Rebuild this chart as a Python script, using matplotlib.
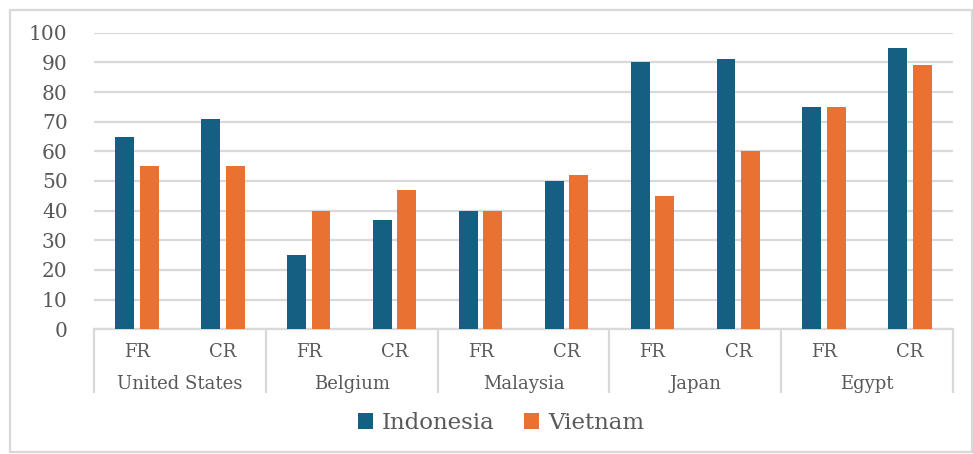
import matplotlib
matplotlib.use("Agg")
import matplotlib.pyplot as plt
import matplotlib.transforms as mtransforms
from matplotlib.patches import Rectangle
import numpy as np

countries = ["United States", "Belgium", "Malaysia", "Japan", "Egypt"]
measures = ["FR", "CR"]
indonesia = [65, 71, 25, 37, 40, 50, 90, 91, 75, 95]
vietnam = [55, 55, 40, 47, 40, 52, 45, 60, 75, 89]

BLUE = "#156082"
ORANGE = "#E97132"
GRID = "#D9D9D9"
TXT = "#595959"

plt.rcParams["font.family"] = ["DejaVu Serif"]

fig = plt.figure(figsize=(9.73, 4.54), dpi=100)
ax = fig.add_axes([94/973, 1 - 329.3/454, (953-94)/973, 296.6/454])

n = len(indonesia)
x = np.arange(n)
w = 0.22
off = 0.143
ax.bar(x - off, indonesia, w, color=BLUE, label="Indonesia", zorder=3)
ax.bar(x + off, vietnam, w, color=ORANGE, label="Vietnam", zorder=3)

ax.set_xlim(-0.5, n - 0.5)
ax.set_ylim(0, 100)
ax.set_yticks(range(0, 101, 10))
ax.yaxis.grid(True, color=GRID, lw=1.6, zorder=0)
ax.tick_params(axis="y", length=0, pad=19, labelsize=14.5, labelcolor=TXT)
for s in ["left", "right", "top"]:
    ax.spines[s].set_visible(False)
ax.spines["bottom"].set_color(GRID)
ax.spines["bottom"].set_linewidth(1.6)

# two-level category axis
ax.set_xticks([])
bounds = np.arange(-0.5, n, 2)
ax.set_xticks(bounds, minor=True)
ax.tick_params(axis="x", which="minor", length=46, width=1.6, color=GRID, labelbottom=False)

trans = mtransforms.blended_transform_factory(ax.transData, ax.transAxes)
for i in range(n):
    ax.text(x[i], -0.075, measures[i % 2], transform=trans, ha="center", va="center",
            fontsize=13, color=TXT)
for j, c in enumerate(countries):
    ax.text(2 * j + 0.5, -0.183, c, transform=trans, ha="center", va="center",
            fontsize=13, color=TXT)

fig.legend(loc="center", bbox_to_anchor=(501/973, 0.068), ncol=2, frameon=False,
           fontsize=16.5, labelcolor=TXT, handlelength=0.65, handleheight=0.65,
           handletextpad=0.4, columnspacing=1.3)

fig.patches.append(Rectangle((10/973, 2/454), 962/973, 442/454, transform=fig.transFigure,
                             fill=False, edgecolor=GRID, lw=1.6))

fig.savefig("out.png", dpi=100)
